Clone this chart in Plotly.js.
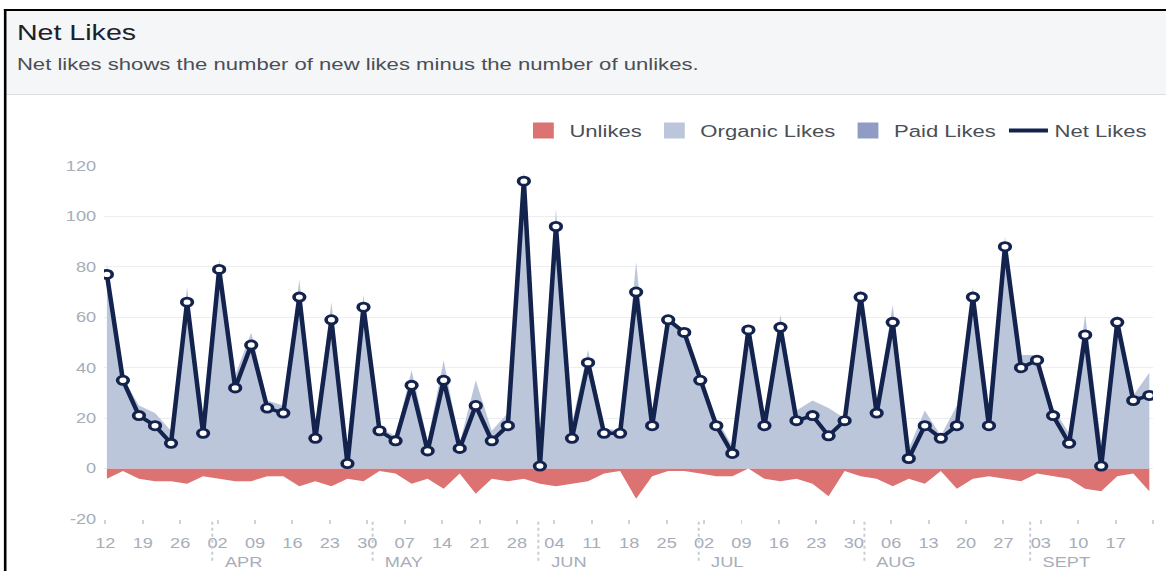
<!DOCTYPE html>
<html><head><meta charset="utf-8">
<script src="https://cdn.plot.ly/plotly-3.0.1.min.js"></script>
<style>
html,body{margin:0;padding:0;background:#fff;overflow:hidden;width:1166px;height:571px;}
#stage{position:absolute;left:0;top:0;width:897px;height:571px;transform:scaleX(1.3);transform-origin:0 0;}
#chart{position:absolute;left:0;top:0;width:897px;height:571px;}
#frameTop{position:absolute;left:3px;top:9px;width:900px;height:2px;background:#000;}
#frameLeft{position:absolute;left:3px;top:9px;width:2.4px;height:570px;background:#000;}
#hdr{position:absolute;left:5.4px;top:11px;width:900px;height:83px;background:#f5f6f7;border-bottom:1px solid #dddfe2;font-family:'Liberation Sans',Arial,sans-serif;}
#t1{position:absolute;left:7.6px;top:11.4px;font-size:22px;line-height:22px;color:#1d2129;white-space:nowrap;}
#t2{position:absolute;left:7.6px;top:44.6px;font-size:17px;line-height:17px;color:#4b4f56;white-space:nowrap;}
</style></head>
<body>
<div id="stage">
  <div id="chart"></div>
  <div id="hdr"><div id="t1">Net Likes</div><div id="t2">Net likes shows the number of new likes minus the number of unlikes.</div></div>
  <div id="frameTop"></div>
  <div id="frameLeft"></div>
</div>
<script>
// ---- data (one value every 3 days, starting 12 Mar) ----
const net = [77,35,21,17,10,66,14,79,32,49,24,22,68,12,59,2,64,15,11,33,7,35,8,25,11,17,114,1,96,12,42,14,14,70,17,59,54,35,17,6,55,17,56,19,21,13,19,68,22,58,4,17,12,17,68,17,88,40,43,21,10,53,1,58,27,29];
const unlikes = [-4,-1,-4,-5,-5,-6,-3,-4,-5,-5,-3,-3,-7,-5,-7,-4,-5,-1,-2,-6,-4,-8,-2,-10,-4,-5,-4,-6,-7,-6,-5,-2,-1,-12,-3,-1,-1,-2,-3,-3,0,-4,-5,-4,-6,-11,-1,-3,-4,-7,-4,-6,-1,-8,-4,-3,-4,-5,-2,-3,-4,-8,-9,-3,-2,-9];
const organic = [81,36,25,22,15,72,17,83,37,54,27,25,75,17,66,6,69,16,13,39,11,43,10,35,15,22,118,7,103,18,47,16,15,82,20,60,55,37,20,9,55,21,61,23,27,24,20,71,26,65,8,23,13,25,72,20,92,45,45,24,14,61,10,61,29,38];
const paid = [0,0,0,0,0,0,0,0,0,0,0,0,0,0,0,0,0,0,0,0,0,0,0,0,0,0,0,0,0,0,0,0,0,0,0,0,0,0,0,0,0,0,0,0,0,0,0,0,0,0,0,0,0,0,0,0,0,0,0,0,0,0,0,0,0,0];
const startDate = Date.UTC(2012, 2, 12, 7);
const stepDays = 3;
const dates = net.map((_, i) => new Date(startDate + i * stepDays * 86400000).toISOString().slice(0, 16).replace('T', ' '));

const tickVals = ['2012-03-12','2012-03-19','2012-03-26','2012-04-02','2012-04-09','2012-04-16','2012-04-23','2012-04-30','2012-05-07','2012-05-14','2012-05-21','2012-05-28','2012-06-04','2012-06-11','2012-06-18','2012-06-25','2012-07-02','2012-07-09','2012-07-16','2012-07-23','2012-07-30','2012-08-06','2012-08-13','2012-08-20','2012-08-27','2012-09-03','2012-09-10','2012-09-17','2012-09-24'];
const tickText = ['12','19','26','02','09','16','23','30','07','14','21','28','04','11','18','25','02','09','16','23','30','06','13','20','27','03','10','17',''];
const yTickVals = [-20,0,20,40,60,80,100,120];
const yTickText = ['-20','0','20','40','60','80','100','120'];
const monthStarts = ['2012-04-01','2012-05-01','2012-06-01','2012-07-01','2012-08-01','2012-09-01'];
const monthLabels = ['APR','MAY','JUN','JUL','AUG','SEPT'];

const C = {unl:'#dc7272', org:'#bcc6db', paid:'#8f9dc4', net:'#13234d', tick:'#a7adb9'};

const traces = [
  {x: dates, y: unlikes, type:'scatter', mode:'lines', line:{width:0, color:C.unl}, fill:'tozeroy', fillcolor:C.unl, showlegend:false, legendgroup:'u', hoverinfo:'skip'},
  {x: dates, y: organic, type:'scatter', mode:'lines', line:{width:0, color:C.org}, stackgroup:'likes', fillcolor:C.org, showlegend:false, legendgroup:'o', hoverinfo:'skip'},
  {x: dates, y: paid, type:'scatter', mode:'lines', line:{width:0, color:C.paid}, stackgroup:'likes', fillcolor:C.paid, showlegend:false, legendgroup:'p', hoverinfo:'skip'},
  {x: dates, y: net, type:'scatter', mode:'lines+markers', line:{width:3.5, color:C.net}, marker:{size:8.2, color:'#ffffff', line:{width:2.8, color:C.net}}, showlegend:false, legendgroup:'n', hoverinfo:'skip'},
  {name:'Unlikes', x:[null], y:[null], type:'scatter', mode:'markers', marker:{symbol:'square', size:16, color:C.unl}, legendgroup:'u'},
  {name:'Organic Likes', x:[null], y:[null], type:'scatter', mode:'markers', marker:{symbol:'square', size:16, color:C.org}, legendgroup:'o'},
  {name:'Paid Likes', x:[null], y:[null], type:'scatter', mode:'markers', marker:{symbol:'square', size:16, color:C.paid}, legendgroup:'p'},
  {name:'Net Likes', x:[null], y:[null], type:'scatter', mode:'lines', line:{width:4, color:C.net}, legendgroup:'n'}
];

const shapes = monthStarts.map(d => ({type:'line', xref:'x', yref:'paper', x0:d, x1:d, y0:-0.008, y1:-0.118, line:{color:'#c8ccd3', width:1.5, dash:'dot'}}));
const annotations = monthStarts.map((d, i) => ({x:d, xref:'x', xanchor:'left', xshift:7.5, y:-0.093, yref:'paper', yanchor:'top', text:monthLabels[i], showarrow:false, font:{size:14, color:C.tick}}));

const layout = {
  width: 897, height: 571,
  margin: {l:80, r:10, t:166, b:52, pad:0},
  paper_bgcolor:'#ffffff', plot_bgcolor:'rgba(0,0,0,0)',
  font:{family:'Liberation Sans, Arial, sans-serif', color:C.tick, size:14},
  showlegend:true,
  legend:{orientation:'h', x:1, xanchor:'right', y:1.099, yanchor:'middle', font:{size:17, color:'#4b4f56'}, itemsizing:'trace', traceorder:'normal', bgcolor:'rgba(0,0,0,0)'},
  xaxis:{type:'date', range:['2012-03-11 18:00','2012-09-24 00:00'], tickmode:'array', tickvals:tickVals, ticktext:tickText, ticks:'outside', ticklen:4, tickwidth:1.5, tickcolor:'#cdd1d8', showgrid:false, zeroline:false, showline:false, tickfont:{size:14, color:C.tick}, ticklabelstandoff:7, fixedrange:true},
  yaxis:{range:[-20,120], tickmode:'array', tickvals:yTickVals, ticktext:yTickText, showgrid:true, gridcolor:'#eceef1', gridwidth:1, zeroline:false, showline:false, ticks:'', tickfont:{size:14, color:C.tick}, ticklabelstandoff:5, fixedrange:true},
  shapes: shapes,
  annotations: annotations,
  hovermode:false
};
Plotly.newPlot('chart', traces, layout, {staticPlot:true, displayModeBar:false, responsive:false});
</script>
</body></html>
